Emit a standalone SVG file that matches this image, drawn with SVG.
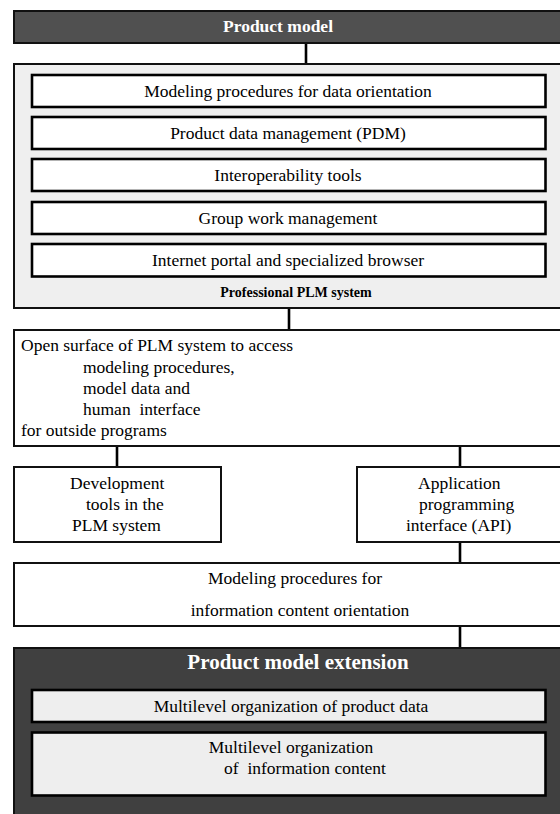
<svg xmlns="http://www.w3.org/2000/svg" width="560" height="814" viewBox="0 0 560 814" font-family="'Liberation Serif', Tinos, 'DejaVu Serif', 'Noto Serif', 'Times New Roman', serif">
<style>
text{font-family:"Liberation Serif",Tinos,"DejaVu Serif","Noto Serif","Times New Roman",serif;font-size:17.5px;fill:#000}
.c{text-anchor:middle}
.w{fill:#fff;font-weight:bold}
.b{font-weight:bold}
.outer{stroke:#111;stroke-width:2}
.inner{stroke:#000;stroke-width:2.6}
.conn line{stroke:#000;stroke-width:2.6}
</style>
<rect width="560" height="814" fill="#fff"/>
<g class="conn">
<line x1="306" y1="43" x2="306" y2="64"/>
<line x1="289" y1="308" x2="289" y2="330"/>
<line x1="117" y1="446" x2="117" y2="467"/>
<line x1="460" y1="446" x2="460" y2="467"/>
<line x1="460" y1="542" x2="460" y2="563"/>
<line x1="460" y1="626" x2="460" y2="648"/>
</g>
<g id="product-model">
<rect class="outer" x="14" y="11" width="580" height="32" fill="#505050"/>
<text class="c w" x="278" y="32" style="font-size:17.5px">Product model</text>
</g>
<g id="plm-system">
<rect class="outer" x="14" y="64" width="580" height="244" fill="#efefef"/>
<text class="c b" x="296" y="297" style="font-size:14px">Professional PLM system</text>
</g>
<g id="modeling-data">
<rect class="inner" x="32" y="75" width="513.5" height="32" fill="#fff"/>
<text class="c" x="288" y="96.5">Modeling procedures for data orientation</text>
</g>
<g id="pdm">
<rect class="inner" x="32" y="117" width="513.5" height="32" fill="#fff"/>
<text class="c" x="288" y="138.5">Product data management (PDM)</text>
</g>
<g id="interop">
<rect class="inner" x="32" y="159" width="513.5" height="32" fill="#fff"/>
<text class="c" x="288" y="180.5">Interoperability tools</text>
</g>
<g id="group-work">
<rect class="inner" x="32" y="202" width="513.5" height="32" fill="#fff"/>
<text class="c" x="288" y="223.5">Group work management</text>
</g>
<g id="internet-portal">
<rect class="inner" x="32" y="244" width="513.5" height="32.5" fill="#fff"/>
<text class="c" x="288" y="266">Internet portal and specialized browser</text>
</g>
<g id="open-surface">
<rect class="outer" x="14" y="330" width="580" height="116" fill="#fff"/>
<text x="21" y="351">Open surface of PLM system to access</text>
<text x="83" y="372.5">modeling procedures,</text>
<text x="83" y="393.5">model data and</text>
<text x="83" y="415" xml:space="preserve">human  interface</text>
<text x="21" y="436">for outside programs</text>
</g>
<g id="dev-tools">
<rect class="outer" x="14" y="467" width="207" height="75" fill="#fff"/>
<text x="70" y="489">Development</text>
<text x="86" y="510">tools in the</text>
<text x="72" y="530.5">PLM system</text>
</g>
<g id="api">
<rect class="outer" x="357" y="467" width="240" height="75" fill="#fff"/>
<text x="418" y="489">Application</text>
<text x="419" y="510">programming</text>
<text x="406" y="530.5">interface (API)</text>
</g>
<g id="modeling-info">
<rect class="outer" x="14" y="563" width="580" height="63" fill="#fff"/>
<text class="c" x="295" y="584">Modeling procedures for</text>
<text class="c" x="300" y="616">information content orientation</text>
</g>
<g id="product-model-extension">
<rect class="outer" x="14" y="648" width="580" height="200" fill="#404040"/>
<text class="c w" x="298" y="669" style="font-size:21px">Product model extension</text>
</g>
<g id="multilevel-data">
<rect class="inner" x="32" y="690" width="513.5" height="32" fill="#eeeeee"/>
<text class="c" x="291" y="711.5">Multilevel organization of product data</text>
</g>
<g id="multilevel-info">
<rect class="inner" x="32" y="732.5" width="513.5" height="63" fill="#eeeeee"/>
<text class="c" x="291" y="753">Multilevel organization</text>
<text class="c" x="305" y="774" xml:space="preserve">of  information content</text>
</g>
</svg>
